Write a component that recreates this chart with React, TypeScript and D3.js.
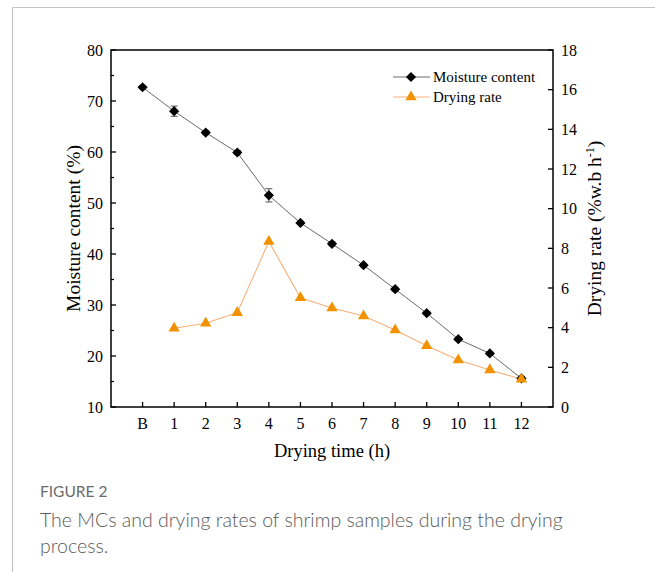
import React from "react";
import * as d3 from "d3";

// values
const timeLabels = ["B", "1", "2", "3", "4", "5", "6", "7", "8", "9", "10", "11", "12"];
const moisture = [72.7, 68.0, 63.8, 59.9, 51.5, 46.1, 42.0, 37.8, 33.1, 28.4, 23.3, 20.5, 15.6];
const moistureErr = [0.3, 1.0, 0.4, 0.4, 1.3, 0.3, 0.4, 0.3, 0.4, 0.3, 0.3, 0.3, 0.4];
const dryingRate = [null, 3.97, 4.22, 4.76, 8.34, 5.51, 4.99, 4.59, 3.88, 3.09, 2.37, 1.87, 1.4];
const leftTicks = [10, 20, 30, 40, 50, 60, 70, 80];
const leftMinor = [15, 25, 35, 45, 55, 65, 75];
const rightTicks = [0, 2, 4, 6, 8, 10, 12, 14, 16, 18];

const W = 655;
const H = 572;
const margin = { top: 50, right: 102, bottom: 165, left: 111 };
const x0 = margin.left;
const x1 = W - margin.right;
const y0 = H - margin.bottom;
const y1 = margin.top;

const serif = "'Liberation Serif', 'Times New Roman', serif";
const sans = "Lato, 'Open Sans', sans-serif";
const orange = "#f39200";
const orangeLine = "#f7b07a";

const App = () => {
  const xScale = d3.scaleLinear().domain([-1, 13]).range([x0, x1]);
  const yLeft = d3.scaleLinear().domain([10, 80]).range([y0, y1]);
  const yRight = d3.scaleLinear().domain([0, 18]).range([y0, y1]);

  const mcLine = d3
    .line<number>()
    .x((d, i) => xScale(i))
    .y((d) => yLeft(d));

  const rateData = dryingRate
    .map((v, i) => ({ i, v }))
    .filter((d) => d.v !== null) as { i: number; v: number }[];

  const rateLine = d3
    .line<{ i: number; v: number }>()
    .x((d) => xScale(d.i))
    .y((d) => yRight(d.v));

  const diamond = d3.symbol(d3.symbolSquare, 52)()!;
  const triangle = d3.symbol(d3.symbolTriangle, 56)()!;

  const legX = 393;
  const legY = 77;

  return (
    <svg
      width={W}
      height={H}
      style={{ position: "absolute", left: 0, top: 0 }}
    >
      <rect x={0} y={0} width={W} height={H} fill="#fff" />
      {/* page frame */}
      <line x1={12.5} y1={7.5} x2={W} y2={7.5} stroke="#c4c4c4" strokeWidth={1.2} />
      <line x1={12.5} y1={7.5} x2={12.5} y2={H} stroke="#c4c4c4" strokeWidth={1.2} />

      {/* series */}
      <path d={rateLine(rateData)!} fill="none" stroke={orangeLine} strokeWidth={1.1} />
      <path d={mcLine(moisture)!} fill="none" stroke="#6a6a6a" strokeWidth={1} />

      {moisture.map((v, i) => {
        const cx = xScale(i);
        const top = yLeft(v + moistureErr[i]);
        const bot = yLeft(v - moistureErr[i]);
        return (
          <g key={"e" + i} stroke="#555" strokeWidth={1}>
            <line x1={cx} x2={cx} y1={top} y2={bot} />
            <line x1={cx - 3.5} x2={cx + 3.5} y1={top} y2={top} />
            <line x1={cx - 3.5} x2={cx + 3.5} y1={bot} y2={bot} />
          </g>
        );
      })}

      {moisture.map((v, i) => (
        <path
          key={"m" + i}
          d={diamond}
          transform={`translate(${xScale(i)},${yLeft(v)}) rotate(45)`}
          fill="#000"
        />
      ))}

      {rateData.map((d) => (
        <path
          key={"r" + d.i}
          d={triangle}
          transform={`translate(${xScale(d.i)},${yRight(d.v)})`}
          fill={orange}
        />
      ))}

      {/* frame of the plot */}
      <rect
        x={x0}
        y={y1}
        width={x1 - x0}
        height={y0 - y1}
        fill="none"
        stroke="#000"
        strokeWidth={1.5}
      />

      {/* left axis */}
      {leftTicks.map((t) => (
        <g key={"lt" + t}>
          <line x1={x0} x2={x0 + 5} y1={yLeft(t)} y2={yLeft(t)} stroke="#000" strokeWidth={1.3} />
          <text
            x={x0 - 8}
            y={yLeft(t)}
            dy="0.35em"
            textAnchor="end"
            fontFamily={serif}
            fontSize={16}
          >
            {t}
          </text>
        </g>
      ))}
      {leftMinor.map((t) => (
        <line key={"lm" + t} x1={x0} x2={x0 + 3} y1={yLeft(t)} y2={yLeft(t)} stroke="#000" strokeWidth={1.2} />
      ))}

      {/* right axis */}
      {rightTicks.map((t) => (
        <g key={"rt" + t}>
          <line x1={x1 - 5} x2={x1} y1={yRight(t)} y2={yRight(t)} stroke="#000" strokeWidth={1.3} />
          <text
            x={x1 + 8}
            y={yRight(t)}
            dy="0.35em"
            textAnchor="start"
            fontFamily={serif}
            fontSize={16}
          >
            {t}
          </text>
        </g>
      ))}

      {/* bottom axis */}
      {timeLabels.map((lab, i) => (
        <g key={"xt" + i}>
          <line x1={xScale(i)} x2={xScale(i)} y1={y0} y2={y0 - 5} stroke="#000" strokeWidth={1.3} />
          <text
            x={xScale(i)}
            y={y0 + 22}
            textAnchor="middle"
            fontFamily={serif}
            fontSize={16}
          >
            {lab}
          </text>
        </g>
      ))}

      {/* axis titles */}
      <text
        x={(x0 + x1) / 2}
        y={y0 + 50}
        textAnchor="middle"
        fontFamily={serif}
        fontSize={18.5}
      >
        Drying time (h)
      </text>
      <text
        transform={`translate(80,${(y0 + y1) / 2}) rotate(-90)`}
        textAnchor="middle"
        fontFamily={serif}
        fontSize={19.5}
      >
        Moisture content (%)
      </text>
      <text
        transform={`translate(601,${(y0 + y1) / 2}) rotate(-90)`}
        textAnchor="middle"
        fontFamily={serif}
        fontSize={19.5}
      >
        Drying rate (%w.b h
        <tspan dy={-7} fontSize={12}>-1</tspan>
        <tspan dy={7}>)</tspan>
      </text>

      {/* legend */}
      <line x1={legX} x2={legX + 37} y1={legY} y2={legY} stroke="#6a6a6a" strokeWidth={1} />
      <path d={diamond} transform={`translate(${legX + 18},${legY}) rotate(45)`} fill="#000" />
      <text x={legX + 40} y={legY} dy="0.35em" fontFamily={serif} fontSize={15}>
        Moisture content
      </text>
      <line x1={legX} x2={legX + 37} y1={legY + 20} y2={legY + 20} stroke={orangeLine} strokeWidth={1.1} />
      <path d={triangle} transform={`translate(${legX + 18},${legY + 20})`} fill={orange} />
      <text x={legX + 40} y={legY + 20} dy="0.35em" fontFamily={serif} fontSize={15}>
        Drying rate
      </text>

      {/* caption */}
      <text x={40} y={497} fontFamily={sans} fontSize={15.5} fill="#6b6b6b">
        FIGURE 2
      </text>
      <text x={40} y={527} fontFamily={sans} fontSize={19.5} fill="#5a5a5a" fontWeight={300}>
        The MCs and drying rates of shrimp samples during the drying
      </text>
      <text x={40} y={553} fontFamily={sans} fontSize={19.5} fill="#5a5a5a" fontWeight={300}>
        process.
      </text>
    </svg>
  );
};

export default App;
